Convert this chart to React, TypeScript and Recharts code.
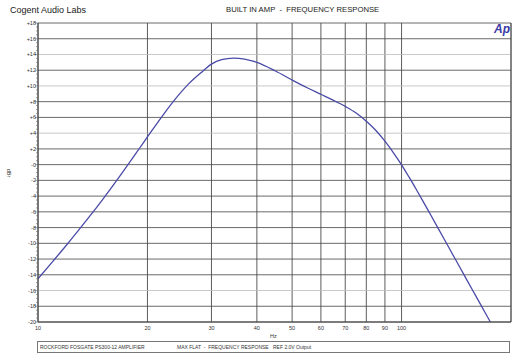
import React from "react";
import {
  LineChart,
  Line,
  XAxis,
  YAxis,
  CartesianGrid,
  ReferenceLine,
} from "recharts";

// frequency response
const freqHz = [
  10, 11, 12, 13, 14, 15, 16, 17, 18, 19, 20, 22, 24, 26, 28, 30, 32, 34.5, 37,
  40, 45, 50, 55, 60, 65, 70, 75, 80, 85, 90, 95, 100, 105, 110, 115, 120, 130,
  140, 150, 160, 170, 175.5,
];
const levelDb = [
  -14.5, -12.26, -10.18, -8.2, -6.33, -4.53, -2.79, -1.11, 0.5, 2.05, 3.52,
  6.21, 8.48, 10.29, 11.64, 12.78, 13.34, 13.54, 13.42, 13.0, 11.9, 10.76,
  9.77, 8.94, 8.17, 7.4, 6.56, 5.52, 4.34, 2.98, 1.5, -0.02, -1.63, -3.23,
  -4.79, -6.31, -9.2, -11.87, -14.36, -16.68, -18.86, -20,
];

const xTicks = [10, 20, 30, 40, 50, 60, 70, 80, 90, 100];
const yMajor = [18, 16, 14, 12, 10, 8, 6, 4, 2, 0, -2, -4, -6, -8, -10, -12, -14, -16, -18, -20];
const yMinor = Array.from({ length: 77 }, (_, i) => -20 + i * 0.5);
const lightLines = [14, 10, 4, -16];

const data = freqHz.map((f, i) => ({ f, db: levelDb[i] }));

const fmtDb = (v: number) => (v > 0 ? `+${v}` : v === 0 ? "-0" : `${v}`);

function YTick(props: any) {
  const { x, y, payload } = props;
  const v = payload.value;
  const major = Math.abs(v % 2) < 1e-6;
  return (
    <g>
      <line x1={x - (major ? 3 : 2)} x2={x} y1={y} y2={y} stroke="#666" strokeWidth={0.6} />
      {major && (
        <text x={x - 2} y={y + 2} textAnchor="end" fontSize={5.5} fill="#333">
          {fmtDb(v)}
        </text>
      )}
    </g>
  );
}

export default function App() {
  const font = "'Liberation Sans', Arial, sans-serif";
  return (
    <div style={{ position: "absolute", left: 0, top: 0, width: 527, height: 360, background: "#fff", fontFamily: font }}>
      {/* Header */}
      <div style={{ position: "absolute", left: 10, top: 5, fontSize: 9, color: "#222" }}>
        Cogent Audio Labs
      </div>
      <div style={{ position: "absolute", left: 226, top: 5, fontSize: 7.7, color: "#222", whiteSpace: "pre" }}>
        BUILT IN AMP  -  FREQUENCY RESPONSE
      </div>

      <LineChart
        width={527}
        height={360}
        data={data}
        margin={{ top: 23, right: 16, bottom: 23, left: 8 }}
        style={{ fontFamily: font }}
      >
        <CartesianGrid horizontal={false} stroke="#333" strokeWidth={0.8} />
        {yMajor.map((v) => (
          <ReferenceLine
            key={v}
            y={v}
            stroke={lightLines.includes(v) ? "#bbb" : "#444"}
            strokeWidth={0.8}
          />
        ))}
        <ReferenceLine x={200} stroke="#444" strokeWidth={0.8} />
        <XAxis
          dataKey="f"
          type="number"
          scale="log"
          domain={[10, 200]}
          ticks={xTicks}
          interval={0}
          allowDataOverflow
          height={15}
          tickSize={0}
          tickMargin={4}
          tick={{ fontSize: 5.5, fill: "#333" }}
          axisLine={{ stroke: "#444" }}
        />
        <YAxis
          type="number"
          domain={[-20, 18]}
          ticks={yMinor}
          interval={0}
          width={30}
          tickSize={0}
          tickMargin={0}
          tick={<YTick />}
          axisLine={{ stroke: "#444" }}
        />
        <Line
          type="monotone"
          dataKey="db"
          stroke="#4a4aa8"
          strokeWidth={1.3}
          dot={false}
          isAnimationActive={false}
        />
      </LineChart>

      {/* Ap logo */}
      <div style={{ position: "absolute", left: 494, top: 22, fontSize: 12, fontWeight: "bold", fontStyle: "italic", color: "#3b3ba6" }}>
        Ap
      </div>

      {/* axis titles */}
      <div style={{ position: "absolute", left: 5, top: 170, fontSize: 5.5, color: "#333", transform: "rotate(90deg)" }}>
        dBr
      </div>
      <div style={{ position: "absolute", left: 270, top: 333, fontSize: 5.5, color: "#333" }}>Hz</div>

      {/* footer box */}
      <div style={{ position: "absolute", left: 37, top: 341, width: 473, height: 12, border: "1px solid #777", boxSizing: "border-box", fontSize: 5, color: "#333", whiteSpace: "pre" }}>
        <span style={{ position: "absolute", left: 2, top: 2 }}>ROCKFORD FOSGATE PS300-12 AMPLIFIER</span>
        <span style={{ position: "absolute", left: 139, top: 2 }}>MAX FLAT  -  FREQUENCY RESPONSE</span>
        <span style={{ position: "absolute", left: 235, top: 2 }}>REF 2.0V Output</span>
      </div>
    </div>
  );
}
